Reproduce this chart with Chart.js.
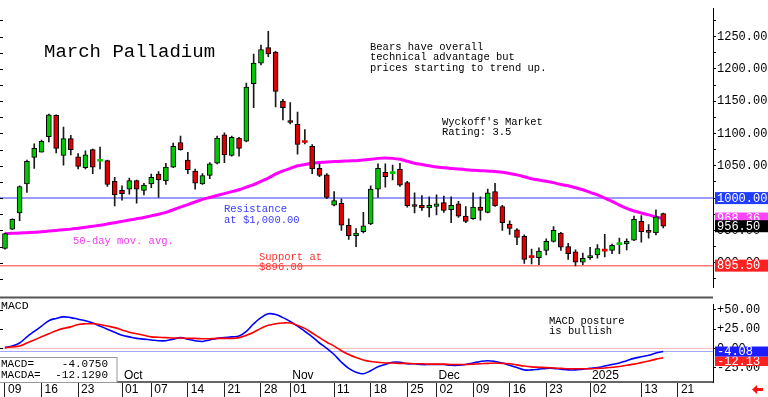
<!DOCTYPE html>
<html>
<head>
<meta charset="utf-8">
<script src="https://cdn.jsdelivr.net/npm/chart.js@4.4.1/dist/chart.umd.min.js"></script>
<style>
  html, body { margin: 0; padding: 0; background: #fff; }
  #wrap { position: relative; width: 768px; height: 397px; overflow: hidden; background: #fff; }
  canvas { position: absolute; left: 0; }
  #price { top: 0; }
  #macd  { top: 296px; }
</style>
</head>
<body>
<div id="wrap">
  <canvas id="price" width="768" height="296"></canvas>
  <canvas id="macd" width="768" height="101"></canvas>
</div>
<script>
// ----------------------------------------------------------
// Data (daily, trading days from Sep 09 2024 to Jan 16 2025)
// ----------------------------------------------------------
const openP  = [922, 952, 977, 1022, 1063, 1071, 1095, 1128, 1066, 1092,
                1064, 1047, 1075, 1057, 1058, 1026, 1012, 1014, 1027, 1012,
                1022, 1037, 1027, 1048, 1086, 1059, 1042, 1022, 1035, 1054,
                1098, 1066, 1093, 1088, 1177, 1209, 1233, 1226, 1150, 1119,
                1114, 1087, 1080, 1046, 1036, 989, 992, 958, 942, 948,
                960, 1014, 1040, 1038, 1045, 1024, 990, 989, 985, 987,
                993, 982, 991, 972, 968, 986, 978, 1010, 987, 960,
                951, 941, 909, 908, 919, 933, 946, 925, 917, 901,
                908, 912, 919, 919, 928, 929, 935, 964, 950, 946, 976];
const highP  = [946, 968, 1019, 1059, 1084, 1090, 1130, 1129, 1110, 1097,
                1069, 1073, 1076, 1079, 1059, 1032, 1019, 1031, 1028, 1023,
                1037, 1041, 1054, 1085, 1096, 1071, 1045, 1038, 1055, 1096,
                1101, 1096, 1094, 1178, 1223, 1237, 1258, 1227, 1153, 1148,
                1133, 1106, 1083, 1053, 1038, 1010, 999, 968, 953, 978,
                1019, 1053, 1053, 1051, 1054, 1026, 1008, 1004, 1002, 1005,
                1003, 1002, 995, 987, 1008, 1002, 1014, 1023, 989, 965,
                953, 943, 921, 923, 937, 956, 947, 930, 920, 915,
                924, 928, 944, 929, 938, 937, 972, 973, 959, 982, 977];
const lowP   = [921, 951, 965, 1009, 1046, 1071, 1087, 1070, 1051, 1067,
                1045, 1045, 1038, 1045, 1018, 988, 997, 1006, 992, 1005,
                1016, 1001, 1021, 1047, 1074, 1038, 1014, 1021, 1030, 1053,
                1055, 1065, 1065, 1087, 1140, 1206, 1219, 1141, 1121, 1115,
                1068, 1084, 1038, 1033, 999, 988, 950, 936, 925, 946,
                959, 1001, 1017, 1028, 1018, 986, 977, 981, 971, 974,
                978, 962, 970, 962, 967, 966, 977, 987, 950, 944,
                928, 899, 898, 897, 912, 932, 919, 905, 895, 897,
                905, 907, 909, 914, 914, 920, 934, 932, 938, 943, 954];
const closeP = [945, 967, 1018, 1057, 1077, 1088, 1129, 1077, 1092, 1075,
                1049, 1067, 1048, 1058, 1021, 1005, 1007, 1027, 1014, 1020,
                1032, 1028, 1048, 1080, 1075, 1044, 1023, 1035, 1053, 1093,
                1067, 1094, 1077, 1172, 1209, 1230, 1223, 1165, 1140, 1117,
                1083, 1086, 1045, 1035, 1001, 996, 958, 942, 946, 957,
                1014, 1046, 1033, 1039, 1020, 988, 987, 985, 989, 991,
                981, 989, 972, 964, 986, 981, 1008, 988, 962, 953,
                939, 905, 908, 918, 933, 950, 924, 914, 901, 907,
                911, 922, 918, 927, 929, 933, 967, 948, 947, 971, 956.5];

// 50-day moving average
const ma50 = [945, 945.5, 946, 946.5, 947, 948, 949, 950, 951, 952,
              953.5, 955, 956.5, 958, 960, 962, 964, 966, 968, 970,
              972.5, 975, 978, 982, 986, 990, 994, 998, 1001, 1004,
              1007, 1010, 1013, 1017, 1021, 1026, 1031, 1037, 1042, 1046,
              1050, 1052, 1054, 1055, 1056, 1056.5, 1057, 1057.5, 1058, 1059,
              1060, 1061.5, 1062, 1061.5, 1060, 1057, 1054, 1052, 1050, 1048,
              1047, 1046, 1045, 1044, 1043, 1042.5, 1042, 1041, 1040, 1038,
              1036, 1033, 1030, 1028, 1026, 1024, 1021, 1019, 1016, 1013,
              1009, 1005, 1000, 995, 989, 984, 980, 977, 974, 971, 968.36];

// MACD (blue) and MACD average (red)
const macdLine = [1, 3, 7, 15, 22, 29, 36, 39, 41, 40,
                  38, 36, 33, 29, 25, 21, 17, 15, 13, 12,
                  11, 10, 10, 12, 14, 12, 10, 9, 11, 13,
                  14, 15, 16, 22, 32, 40, 45, 44, 40, 35,
                  29, 22, 15, 7, 0, -8, -18, -26, -31, -33,
                  -29, -24, -21, -18, -18, -20, -20, -21, -21, -21,
                  -21, -22, -22, -21, -19, -17, -16, -17, -19, -22,
                  -25, -28, -28, -27, -26, -26, -27, -28, -28, -27,
                  -26, -25, -23, -21, -19, -16, -13, -11, -9, -6, -4.075];
const macdAvg  = [1, 2, 3, 7, 11, 15, 19, 23, 26, 28,
                  31, 32, 32, 31, 29, 27, 24, 21, 19, 17,
                  15, 14.5, 14, 13.5, 13.5, 13, 13, 12.5, 12.5, 13,
                  13, 13, 14, 17, 21, 26, 30, 32, 33, 33,
                  30, 26, 20, 14, 8, 3, -3, -8, -12, -15,
                  -17, -18, -19, -19, -19.5, -19.5, -20, -20, -20.5, -20.5,
                  -20.5, -21, -21, -21, -20.5, -20, -19.5, -19, -19.5, -20,
                  -21.5, -23, -24, -24.5, -25, -25.5, -26, -26.5, -26.5, -26.5,
                  -26.5, -26, -25.5, -24.5, -23.5, -22, -20.5, -18.5, -16.5, -14, -12.129];

// Axes
const dateTickIdx  = [0, 5, 10, 16, 20, 25, 30, 35, 39, 45, 50, 55, 59, 64, 69, 74, 80, 87, 92];
const dateTickText = ['09', '16', '23', '01', '07', '14', '21', '28', '01', '11',
                      '18', '25', '02', '09', '16', '23', '02', '13', '21'];
const monthIdx     = [16, 39, 59, 80];
const monthText    = ['Oct', 'Nov', 'Dec', '2025'];
const priceTicks   = [875, 900, 925, 950, 975, 1000, 1025, 1050, 1075, 1100,
                      1125, 1150, 1175, 1200, 1225, 1250, 1275];
const macdTicks    = [-25, 0, 25, 50];

// Levels
const resistance = 1000.00;
const support    = 895.50;
const lastMa     = 968.36;
const lastClose  = 956.50;

// ----------------------------------------------------------
// Shared settings
// ----------------------------------------------------------
const X_MIN = -0.68;
const X_MAX = 96.8;
const AXIS_W = 55;
const MONO = 'Liberation Mono, DejaVu Sans Mono, monospace';
const SANS = 'Liberation Sans, Arial, sans-serif';
const idx = closeP.map((_, i) => i);

function hline(ctx, x1, x2, y, color, w) {
  ctx.beginPath();
  ctx.strokeStyle = color;
  ctx.lineWidth = w;
  ctx.moveTo(x1, y);
  ctx.lineTo(x2, y);
  ctx.stroke();
}

function txt(ctx, s, x, y, color, font, align) {
  ctx.fillStyle = color;
  ctx.font = font;
  ctx.textAlign = align || 'left';
  ctx.textBaseline = 'middle';
  ctx.fillText(s, x, y);
}

function valueBox(ctx, x, yc, h, bg, label, font) {
  ctx.fillStyle = bg;
  ctx.fillRect(x, yc - h / 2, 768 - x, h);
  txt(ctx, label, x + 2, yc + 0.5, '#fff', font);
}

// ----------------------------------------------------------
// Price pane decorations
// ----------------------------------------------------------
const priceDeco = {
  id: 'priceDeco',
  beforeDatasetsDraw(chart) {
    const { ctx, chartArea: a, scales: { y } } = chart;
    ctx.save();
    hline(ctx, a.left, a.right, y.getPixelForValue(resistance), '#7b7bff', 1.5);
    hline(ctx, a.left, a.right, y.getPixelForValue(support), '#ff7b7b', 1.5);
    priceTicks.forEach((v) => hline(ctx, 0, 3, Math.round(y.getPixelForValue(v)) + 0.5, '#000', 1));
    ctx.restore();
  },
  afterDraw(chart) {
    const { ctx, chartArea: a, scales: { y } } = chart;
    ctx.save();
    txt(ctx, 'March Palladium', 44, 52, '#000', '19px ' + MONO);

    const small = '10.5px ' + MONO;
    txt(ctx, 'Bears have overall', 370, 47, '#000', small);
    txt(ctx, 'technical advantage but', 370, 57.5, '#000', small);
    txt(ctx, 'prices starting to trend up.', 370, 68, '#000', small);
    txt(ctx, "Wyckoff's Market", 442, 122, '#000', small);
    txt(ctx, 'Rating: 3.5', 442, 132.5, '#000', small);

    txt(ctx, 'Resistance', 224, 209.5, '#3c3cff', small);
    txt(ctx, 'at $1,000.00', 224, 220, '#3c3cff', small);
    txt(ctx, '50-day mov. avg.', 73, 241, '#f03cf0', small);
    txt(ctx, 'Support at', 259, 257, '#ff3030', small);
    txt(ctx, '$896.00', 259, 267, '#ff3030', small);

    // value boxes on the right axis
    const bx = a.right + 2;
    const f = '12px ' + MONO;
    valueBox(ctx, bx, y.getPixelForValue(resistance), 12, '#1f3cff', resistance.toFixed(2), f);
    valueBox(ctx, bx, y.getPixelForValue(lastMa), 12, '#ff44ff', lastMa.toFixed(2), f);
    valueBox(ctx, bx, y.getPixelForValue(lastClose), 12, '#000', lastClose.toFixed(2), f);
    valueBox(ctx, bx, y.getPixelForValue(support), 12, '#ff2020', support.toFixed(2), f);
    ctx.restore();
  },
};

new Chart(document.getElementById('price'), {
  type: 'bar',
  data: {
    datasets: [
      {
        type: 'line',
        data: idx.map((i) => ({ x: i, y: ma50[i] })),
        borderColor: '#ff00ff',
        borderWidth: 3,
        pointRadius: 0,
        tension: 0.4,
        order: 3,
      },
      {
        data: idx.map((i) => ({ x: i, y: [lowP[i], highP[i]] })),
        backgroundColor: '#1a1a1a',
        barThickness: 1,
        grouped: false,
        order: 2,
      },
      {
        data: idx.map((i) => ({ x: i, y: [openP[i], closeP[i]] })),
        backgroundColor: (c) => closeP[c.dataIndex] >= openP[c.dataIndex] ? '#00c800' : '#dc0000',
        borderColor: '#000',
        borderWidth: (c) => Math.abs(closeP[c.dataIndex] - openP[c.dataIndex]) < 2 ? 0 : 1,
        borderSkipped: false,
        barThickness: 5,
        minBarLength: 2,
        grouped: false,
        order: 1,
      },
    ],
  },
  options: {
    responsive: false,
    animation: false,
    events: [],
    layout: { padding: 0 },
    plugins: { legend: { display: false }, tooltip: { enabled: false } },
    scales: {
      x: { type: 'linear', min: X_MIN, max: X_MAX, offset: false, display: false },
      y: {
        position: 'right',
        min: 861.2,
        max: 1293.9,
        afterFit: (s) => { s.width = AXIS_W; },
        afterBuildTicks: (s) => { s.ticks = priceTicks.map((v) => ({ value: v })); },
        ticks: {
          callback: (v) => (v % 50 === 0 ? v.toFixed(2) : ''),
          color: '#000',
          font: { family: MONO, size: 12 },
          padding: 1,
        },
        grid: { drawOnChartArea: false, tickLength: 3, color: '#000' },
        border: { color: '#000', width: 1 },
      },
    },
  },
  plugins: [priceDeco],
});

// ----------------------------------------------------------
// MACD pane decorations
// ----------------------------------------------------------
const macdDeco = {
  id: 'macdDeco',
  beforeDatasetsDraw(chart) {
    const { ctx, chartArea: a, scales: { y } } = chart;
    ctx.save();
    hline(ctx, a.left, a.right, y.getPixelForValue(0), '#ffb4b4', 1);
    hline(ctx, a.left, a.right, y.getPixelForValue(macdLine[macdLine.length - 1]), '#a8a8ff', 1);
    macdTicks.forEach((v) => hline(ctx, 0, 3, Math.round(y.getPixelForValue(v)) + 0.5, '#000', 1));
    ctx.restore();
  },
  afterDraw(chart) {
    const { ctx, chartArea: a, scales: { x, y } } = chart;
    ctx.save();
    // pane separator
    ctx.fillStyle = '#555';
    ctx.fillRect(0, 0.5, a.right, 2);

    txt(ctx, 'MACD', 1, 10, '#000', '11.5px ' + MONO);
    txt(ctx, 'MACD posture', 549, 25.5, '#000', '10.5px ' + MONO);
    txt(ctx, 'is bullish', 549, 35.5, '#000', '10.5px ' + MONO);

    monthIdx.forEach((m, i) => {
      txt(ctx, monthText[i], x.getPixelForValue(m) + 2, 80, '#000', '12px ' + SANS);
    });

    // last values box
    ctx.fillStyle = '#fff';
    ctx.fillRect(0, 61, 117, a.bottom - 61);
    ctx.strokeStyle = '#999';
    ctx.lineWidth = 1;
    ctx.strokeRect(-1, 61.5, 118, a.bottom - 61);
    const vf = '11px ' + MONO;
    const lm = macdLine[macdLine.length - 1];
    const la = macdAvg[macdAvg.length - 1];
    txt(ctx, 'MACD=', 1, 68.5, '#000', vf);
    txt(ctx, lm.toFixed(4), 108, 68.5, '#000', vf, 'right');
    txt(ctx, 'MACDA=', 1, 79.5, '#000', vf);
    txt(ctx, la.toFixed(4), 108, 79.5, '#000', vf, 'right');

    // right axis value boxes
    const bx = a.right + 2;
    const yb = y.getPixelForValue(lm);
    const f = '12px ' + MONO;
    ctx.fillStyle = '#ff2020';
    ctx.fillRect(bx, yb + 5, 768 - bx, 9.5);
    txt(ctx, la.toFixed(2), bx + 2, yb + 10, '#fff', f);
    valueBox(ctx, bx, yb, 10, '#1c1cff', lm.toFixed(2), f);

    // red arrow, bottom right
    ctx.fillStyle = '#ff1010';
    ctx.beginPath();
    ctx.moveTo(752, 93.5);
    ctx.lineTo(757, 89);
    ctx.lineTo(757, 98);
    ctx.closePath();
    ctx.fill();
    ctx.fillRect(756, 92, 7, 3);
    ctx.restore();
  },
};

new Chart(document.getElementById('macd'), {
  type: 'line',
  data: {
    datasets: [
      {
        data: idx.map((i) => ({ x: i, y: macdAvg[i] })),
        borderColor: '#ff0000',
        borderWidth: 1.6,
        pointRadius: 0,
        tension: 0.4,
      },
      {
        data: idx.map((i) => ({ x: i, y: macdLine[i] })),
        borderColor: '#0000ff',
        borderWidth: 1.6,
        pointRadius: 0,
        tension: 0.4,
      },
    ],
  },
  options: {
    responsive: false,
    animation: false,
    events: [],
    layout: { padding: { top: 2, left: 0, right: 0, bottom: 0 } },
    plugins: { legend: { display: false }, tooltip: { enabled: false } },
    scales: {
      x: {
        type: 'linear',
        min: X_MIN,
        max: X_MAX,
        offset: false,
        position: 'bottom',
        afterBuildTicks: (s) => { s.ticks = dateTickIdx.map((v) => ({ value: v })); },
        afterFit: (s) => { s.height = 15; },
        ticks: {
          autoSkip: false,
          maxRotation: 0,
          align: 'start',
          labelOffset: 3,
          padding: -15,
          callback: (v, i) => dateTickText[i],
          color: '#000',
          font: { family: SANS, size: 12 },
        },
        grid: { drawOnChartArea: false, tickLength: 15, color: '#222' },
        border: { color: '#666', width: 2 },
      },
      y: {
        position: 'right',
        min: -43.73,
        max: 57.47,
        afterFit: (s) => { s.width = AXIS_W; },
        afterBuildTicks: (s) => { s.ticks = macdTicks.map((v) => ({ value: v })); },
        ticks: {
          callback: (v) => (v > 0 ? '+' : '') + v.toFixed(2),
          color: '#000',
          font: { family: MONO, size: 12 },
          padding: 1,
        },
        grid: { drawOnChartArea: false, tickLength: 3, color: '#000' },
        border: { color: '#000', width: 1 },
      },
    },
  },
  plugins: [macdDeco],
});
</script>
</body>
</html>
